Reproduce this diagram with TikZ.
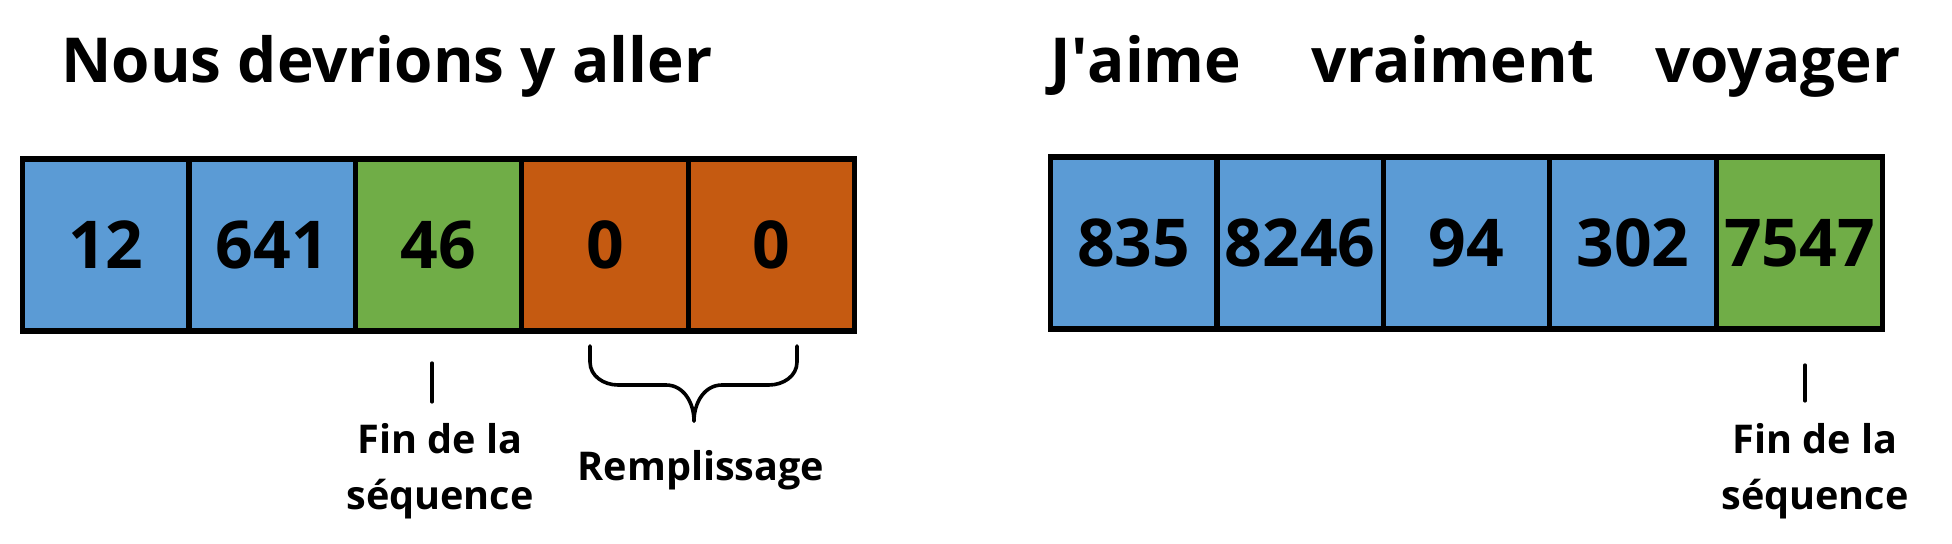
\documentclass[tikz,border=0pt]{standalone}
\usepackage{fontspec}
\setmainfont{Open Sans}
\usetikzlibrary{positioning}
\definecolor{tokblue}{HTML}{5B9BD5}
\definecolor{tokgreen}{HTML}{70AD47}
\definecolor{tokpad}{HTML}{C55A11}
\begin{document}
\begin{tikzpicture}[x=0.5pt,y=0.5pt]
        \tikzstyle{token}=[rectangle,draw=black,line width=2.6pt,minimum width=83.2pt,minimum height=86pt,inner sep=0pt,font=\bfseries\fontsize{33}{33}\selectfont]
        \tikzstyle{heading}=[inner sep=0pt,font=\bfseries\fontsize{31}{36}\selectfont]
        \tikzstyle{note}=[inner sep=0pt,align=center,font=\bfseries\fontsize{19.8}{28}\selectfont]
        \tikzstyle{tickline}=[draw,line width=1.6pt,line cap=round]
        \tikzstyle{brace}=[draw,line width=1.8pt,line cap=round,line join=round]
        \useasboundingbox (0,0) rectangle (1952,544);
       % first sentence, padded
       \begin{scope}
         \node [heading,anchor=base west] (s1) at (61,461) {Nous devrions y aller};
         \node [token,fill=tokblue] (a1) at (105.8,299) {12};
         \node [token,fill=tokblue,right=-2.6pt of a1] (a2) {641};
         \node [token,fill=tokgreen,right=-2.6pt of a2] (a3) {46};
         \node [token,fill=tokpad,right=-2.6pt of a3] (a4) {0};
         \node [token,fill=tokpad,right=-2.6pt of a4] (a5) {0};
         \coordinate (e1a) at (432,181);
         \coordinate (e1b) at (432,142);
         \path[tickline] (e1a) -- (e1b);
         \node [note] (f1) at (440,73) {Fin de la\\séquence};
         \coordinate (bl) at (590,198);
         \coordinate (br) at (797,198);
         \coordinate (bt) at (694,123);
         \path[brace] (bl) -- (590,182) to[out=-90,in=180] (618,159) -- (666,159) to[out=0,in=90] (bt);
         \path[brace] (br) -- (797,182) to[out=-90,in=0] (769,159) -- (722,159) to[out=180,in=90] (bt);
         \node [note,anchor=base] (p1) at (701,63) {Remplissage};
        \end{scope}
       % second sentence, full length
       \begin{scope}
         \node [heading,anchor=base] (w1) at (1146,461) {J\textquotesingle aime};
         \node [heading,anchor=base] (w2) at (1453,461) {vraiment};
         \node [heading,anchor=base] (w3) at (1778,461) {voyager};
         \node [token,fill=tokblue] (b1) at (1133.8,301) {835};
         \node [token,fill=tokblue,right=-2.6pt of b1] (b2) {8246};
         \node [token,fill=tokblue,right=-2.6pt of b2] (b3) {94};
         \node [token,fill=tokblue,right=-2.6pt of b3] (b4) {302};
         \node [token,fill=tokgreen,right=-2.6pt of b4] (b5) {7547};
         \coordinate (e2a) at (1805,179);
         \coordinate (e2b) at (1805,143);
         \path[tickline] (e2a) -- (e2b);
         \node [note] (f2) at (1815,73) {Fin de la\\séquence};
        \end{scope}
      \end{tikzpicture}
\end{document}
